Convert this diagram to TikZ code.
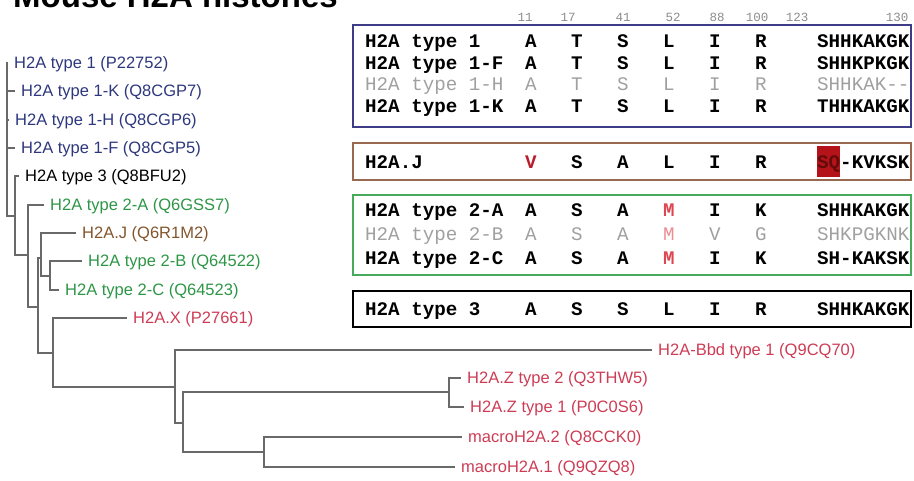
\documentclass[tikz,border=0pt]{standalone}
\usepackage{fontspec}
\setmainfont{Liberation Sans}
\setmonofont{Liberation Mono}
\definecolor{cnavy}{RGB}{45,55,125}
\definecolor{cgreen}{RGB}{45,150,70}
\definecolor{cbrown}{RGB}{130,85,45}
\definecolor{cred}{RGB}{205,60,85}
\definecolor{treegray}{RGB}{105,105,105}
\definecolor{boxblue}{RGB}{60,60,135}
\definecolor{boxbrown}{RGB}{150,105,80}
\definecolor{boxgreen}{RGB}{70,170,90}
\definecolor{seqgray}{RGB}{160,160,160}
\definecolor{posgray}{RGB}{140,140,140}
\definecolor{vred}{RGB}{185,30,45}
\definecolor{mred}{RGB}{220,70,80}
\definecolor{mpink}{RGB}{235,140,145}
\definecolor{sqred}{RGB}{180,20,25}
\definecolor{sqtext}{RGB}{100,10,10}
\newcommand\leaffont{\fontsize{16.5}{18}\selectfont}
\newcommand\seqbold{\ttfamily\bfseries\fontsize{19.2}{21}\selectfont}
\newcommand\seqreg{\ttfamily\fontsize{19.2}{21}\selectfont}
\newcommand\posfont{\ttfamily\fontsize{12.5}{14}\selectfont}
\newcommand\titlefont{\bfseries\fontsize{33}{36}\selectfont}
\tikzset{
  branch/.style={draw=treegray,line width=1.4pt},
  leaf/.style={anchor=west,inner xsep=6pt,inner ysep=0pt,text height=11.8pt,
    text depth=0pt,font=\leaffont,text=#1},
  leaf/.default=black,
  grpbox/.style={draw=#1,line width=2.6pt},
  seqcell/.style={inner sep=0pt,text height=11pt,text depth=0pt},
  posnum/.style={inner sep=0pt,font=\posfont,text=posgray},
  titletext/.style={anchor=base west,inner sep=0pt,font=\titlefont},
}
\begin{document}
\begin{tikzpicture}[x=1pt,y=-1pt]
  \useasboundingbox (0,0) rectangle (914,480);
  \clip (0,0) rectangle (914,480);
  \node[titletext] (ttl) at (13,7) {Mouse H2A histones};

  % residue positions
  \foreach \n/\x in {11/525,17/568,41/623,52/673,88/717,100/757,123/797,130/897}
    \node[posnum] (p\n) at (\x,17) {\n};

  % group frames
  \draw[grpbox=boxblue] (353,25) rectangle (911,127);
  \draw[grpbox=boxbrown] (353,143) rectangle (911,180);
  \draw[grpbox=boxgreen] (353,195) rectangle (911,275);
  \draw[grpbox=black] (353,291) rectangle (911,327);
  \fill[sqred] (817,146) rectangle (840,177);

  % alignment rows
  \foreach \y/\nm/\ra/\rb/\rc/\rd/\re/\rf/\tail/\fnt/\col [count=\k] in {
      42/H2A type 1/A/T/S/L/I/R/SHHKAKGK/\seqbold/black,
      63.5/H2A type 1-F/A/T/S/L/I/R/SHHKPKGK/\seqbold/black,
      85/H2A type 1-H/A/T/S/L/I/R/SHHKAK-{}-/\seqreg/seqgray,
      106.5/H2A type 1-K/A/T/S/L/I/R/THHKAKGK/\seqbold/black,
      163/H2A.J/{\textcolor{vred}{V}}/S/A/L/I/R/{\textcolor{sqtext}{SQ}-KVKSK}/\seqbold/black,
      211/H2A type 2-A/A/S/A/{\textcolor{mred}{M}}/I/K/SHHKAKGK/\seqbold/black,
      235/H2A type 2-B/A/S/A/{\textcolor{mpink}{M}}/V/G/SHKPGKNK/\seqreg/seqgray,
      259/H2A type 2-C/A/S/A/{\textcolor{mred}{M}}/I/K/SH-KAKSK/\seqbold/black,
      309.5/H2A type 3/A/S/S/L/I/R/SHHKAKGK/\seqbold/black}
  {
    \node[seqcell,anchor=west,font=\fnt,text=\col] (nm\k) at (365,\y) {\nm};
    \foreach \r [count=\i] in {\ra,\rb,\rc,\rd,\re,\rf}
      \node[seqcell,font=\fnt,text=\col] (r\k-\i) at ({485+46*\i},\y) {\r};
    \node[seqcell,anchor=west,font=\fnt,text=\col] (tl\k) at (817,\y) {\tail};
  }

  % tree leaves
  \node[leaf=cnavy] (t1) at (8,63) {H2A type 1 (P22752)};
  \node[leaf=cnavy] (t1k) at (15,91) {H2A type 1-K (Q8CGP7)};
  \node[leaf=cnavy] (t1h) at (9,120) {H2A type 1-H (Q8CGP6)};
  \node[leaf=cnavy] (t1f) at (15,148) {H2A type 1-F (Q8CGP5)};
  \node[leaf] (t3) at (19,176) {H2A type 3 (Q8BFU2)};
  \node[leaf=cgreen] (t2a) at (44,205) {H2A type 2-A (Q6GSS7)};
  \node[leaf=cbrown] (hj) at (76,233) {H2A.J (Q6R1M2)};
  \node[leaf=cgreen] (t2b) at (82,261) {H2A type 2-B (Q64522)};
  \node[leaf=cgreen] (t2c) at (59,290) {H2A type 2-C (Q64523)};
  \node[leaf=cred] (hx) at (127,318) {H2A.X (P27661)};
  \node[leaf=cred] (bbd) at (652,350) {H2A-Bbd type 1 (Q9CQ70)};
  \node[leaf=cred] (z2) at (461,378) {H2A.Z type 2 (Q3THW5)};
  \node[leaf=cred] (z1) at (464,407) {H2A.Z type 1 (P0C0S6)};
  \node[leaf=cred] (m2) at (462,437) {macroH2A.2 (Q8CCK0)};
  \node[leaf=cred] (m1) at (455,467) {macroH2A.1 (Q9QZQ8)};

  % inner nodes
  \coordinate (n1) at (7,140);
  \coordinate (n2) at (15,216);
  \coordinate (n3) at (28,255);
  \coordinate (n4) at (38,307);
  \coordinate (n5) at (41,258);
  \coordinate (n6) at (50,276);
  \coordinate (n7) at (53,353);
  \coordinate (n8) at (175,387);
  \coordinate (n9) at (183,423);
  \coordinate (nz) at (449,392);
  \coordinate (nm) at (264,452);

  % branches
  \foreach \a/\b in {n1/t1.west,n1/t1k.west,n1/t1h.west,n1/t1f.west,n1/n2,
      n2/t3.west,n2/n3,n3/t2a.west,n3/n4,n4/n5,n4/n7,n5/hj.west,n5/n6,
      n6/t2b.west,n6/t2c.west,n7/hx.west,n7/n8,n8/bbd.west,n8/n9,
      n9/nz,n9/nm,nz/z2.west,nz/z1.west,nm/m2.west,nm/m1.west}
    \draw[branch] (\a) |- (\b);
\end{tikzpicture}
\end{document}
